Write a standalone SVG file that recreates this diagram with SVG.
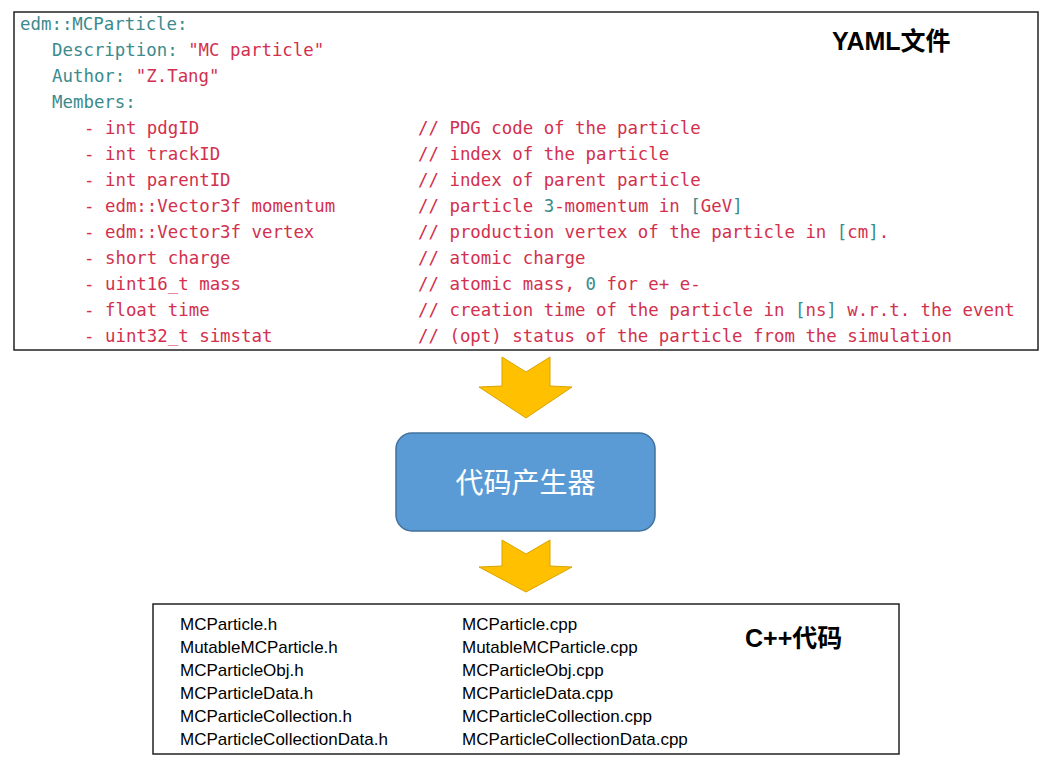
<svg xmlns="http://www.w3.org/2000/svg" width="1048" height="766" viewBox="0 0 1048 766">
<style>
.c{font-family:"DejaVu Sans Mono","Liberation Mono",monospace;font-size:17.4px;fill:#d2304e}
.k{fill:#3b8a8c}
.f{font-family:"Liberation Sans",Arial,sans-serif;font-size:17px;fill:#000}
.t{font-family:"Liberation Sans","Noto Sans CJK SC",sans-serif;font-size:25px;font-weight:bold;fill:#000}
.arrow{fill:#ffc000;stroke:#d9a400;stroke-width:1}
</style>
<rect width="1048" height="766" fill="#fff"/>
<g id="yaml">
<rect x="14" y="12" width="1024" height="338" fill="#fff" stroke="#222" stroke-width="1.5"/>
<text class="c"><tspan class="k" x="20" y="30">edm::MCParticle:</tspan>
<tspan class="k" x="52" y="56">Description: </tspan><tspan>"MC particle"</tspan>
<tspan class="k" x="52" y="82">Author: </tspan><tspan>"Z.Tang"</tspan>
<tspan class="k" x="52" y="108">Members:</tspan>
<tspan x="84" y="134">- int pdgID</tspan><tspan x="418" y="134">// PDG code of the particle</tspan>
<tspan x="84" y="160">- int trackID</tspan><tspan x="418" y="160">// index of the particle</tspan>
<tspan x="84" y="186">- int parentID</tspan><tspan x="418" y="186">// index of parent particle</tspan>
<tspan x="84" y="212">- edm::Vector3f momentum</tspan><tspan x="418" y="212">// particle </tspan><tspan class="k">3</tspan><tspan>-momentum in </tspan><tspan class="k">[</tspan><tspan>GeV</tspan><tspan class="k">]</tspan>
<tspan x="84" y="238">- edm::Vector3f vertex</tspan><tspan x="418" y="238">// production vertex of the particle in </tspan><tspan class="k">[</tspan><tspan>cm</tspan><tspan class="k">]</tspan><tspan>.</tspan>
<tspan x="84" y="264">- short charge</tspan><tspan x="418" y="264">// atomic charge</tspan>
<tspan x="84" y="290">- uint16_t mass</tspan><tspan x="418" y="290">// atomic mass, </tspan><tspan class="k">0</tspan><tspan> for e+ e-</tspan>
<tspan x="84" y="316">- float time</tspan><tspan x="418" y="316">// creation time of the particle in </tspan><tspan class="k">[</tspan><tspan>ns</tspan><tspan class="k">]</tspan><tspan> w.r.t. the event</tspan>
<tspan x="84" y="342">- uint32_t simstat</tspan><tspan x="418" y="342">// (opt) status of the particle from the simulation</tspan></text>
<text class="t" x="832" y="50">YAML文件</text>
</g>
<g id="connectors">
<polygon class="arrow" points="502,357 526,372 550,357 550,386 572,387 526,418 479,387 502,386"/>
<polygon class="arrow" points="502,540 526,554 550,540 550,566 572,567 526,592 479,567 502,566"/>
</g>
<g id="generator">
<rect x="396" y="433" width="259" height="98" rx="16" fill="#5b9bd5" stroke="#41719c" stroke-width="1.5"/>
<text x="525.5" y="493" text-anchor="middle" font-family="Noto Sans CJK SC,sans-serif" font-size="28" fill="#fff">代码产生器</text>
</g>
<g id="cpp">
<rect x="153" y="604" width="746" height="150" fill="#fff" stroke="#222" stroke-width="1.5"/>
<text class="f"><tspan x="180" y="630">MCParticle.h</tspan><tspan x="180" y="653">MutableMCParticle.h</tspan><tspan x="180" y="676">MCParticleObj.h</tspan><tspan x="180" y="699">MCParticleData.h</tspan><tspan x="180" y="722">MCParticleCollection.h</tspan><tspan x="180" y="745">MCParticleCollectionData.h</tspan></text>
<text class="f"><tspan x="462" y="630">MCParticle.cpp</tspan><tspan x="462" y="653">MutableMCParticle.cpp</tspan><tspan x="462" y="676">MCParticleObj.cpp</tspan><tspan x="462" y="699">MCParticleData.cpp</tspan><tspan x="462" y="722">MCParticleCollection.cpp</tspan><tspan x="462" y="745">MCParticleCollectionData.cpp</tspan></text>
<text class="t" x="745" y="647">C++代码</text>
</g>
</svg>
